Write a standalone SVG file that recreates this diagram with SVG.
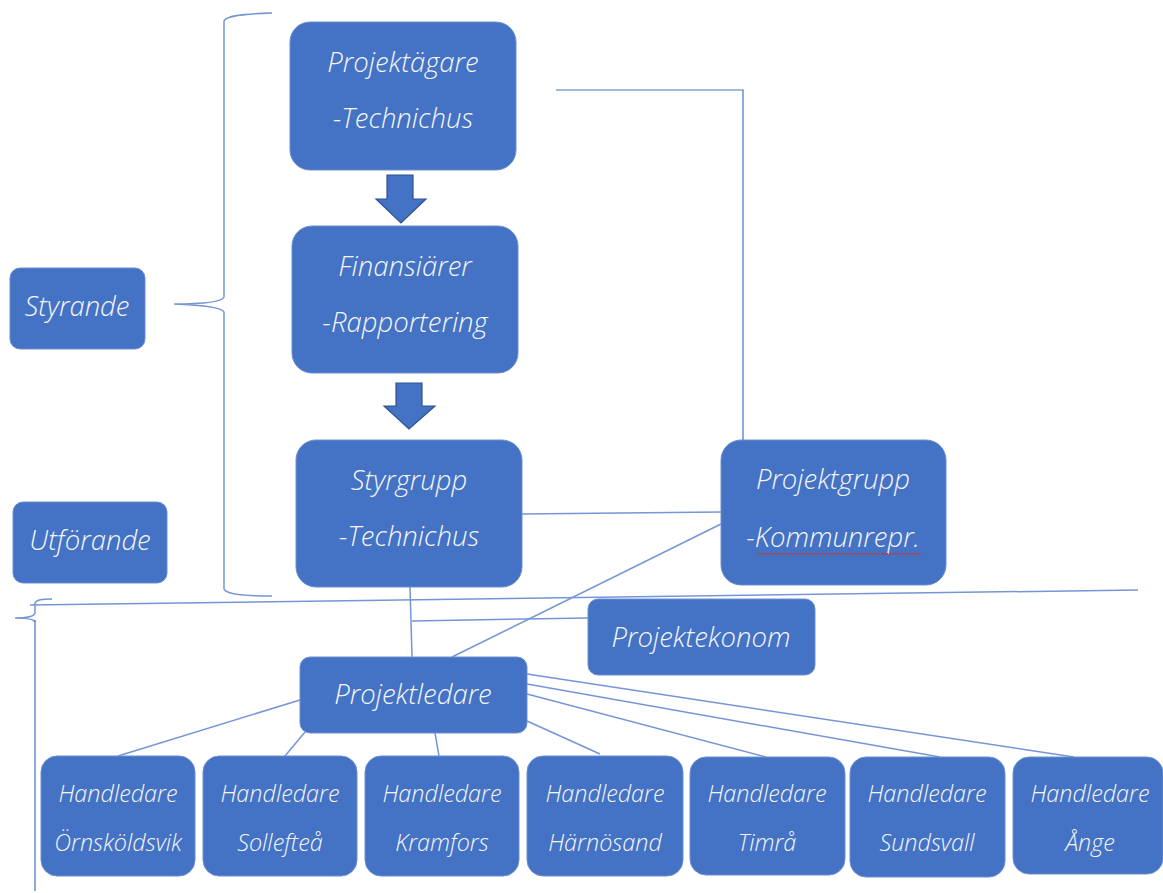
<svg xmlns="http://www.w3.org/2000/svg" width="1163" height="893" viewBox="0 0 1163 893">
<style>
.box{fill:#4472C4;stroke:#6d8fd0;stroke-width:1}
.t{font-family:"Open Sans","Liberation Sans",sans-serif;font-style:italic;font-weight:300;fill:#f6f6f6;text-anchor:middle;font-size:27.5px}
.s{font-size:23.4px}
.ln{stroke:#4472C4;stroke-width:1.2;fill:none}
.lt{stroke:#7596d6;stroke-width:1.5;fill:none}
.arr{fill:#4472C4;stroke:#2F528F;stroke-width:1.2}
</style>
<rect width="1163" height="893" fill="#ffffff"/>
<g id="connectors">
<path class="lt" d="M272,13 C240,14 226,16 224,21 L224,297 C222,302 200,304 174,304 C200,305 222,307 224,312 L224,589 C226,594 240,596 272,596"/>
<path class="lt" d="M52,599 C40,599 36,600 35,603 L35,613 C34,617 25,618 15,618 C25,618 34,619 35,622"/>
<line class="ln" x1="35" y1="620" x2="35" y2="891"/>
<line class="lt" x1="30" y1="605" x2="1138" y2="590"/>
<polyline class="ln" points="556,90 743,90 743,440"/>
<line class="lt" x1="522" y1="514" x2="721" y2="512"/>
<line class="lt" x1="721" y1="524" x2="452" y2="657"/>
<line class="lt" x1="410" y1="587" x2="412" y2="657"/>
<line class="lt" x1="412" y1="621" x2="588" y2="618"/>
<line class="lt" x1="300" y1="700" x2="118" y2="756"/>
<line class="lt" x1="305" y1="732" x2="285" y2="756"/>
<line class="lt" x1="435" y1="733" x2="439" y2="756"/>
<line class="lt" x1="527" y1="721" x2="600" y2="754"/>
<line class="lt" x1="527" y1="694" x2="766" y2="757"/>
<line class="lt" x1="527" y1="684" x2="940" y2="757"/>
<line class="lt" x1="527" y1="674" x2="1074" y2="757"/>
</g>
<g id="arrow1"><path class="arr" d="M387,175 L413,175 L413,199 L426,199 L401,223 L376,199 L387,199 Z"/></g>
<g id="arrow2"><path class="arr" d="M396,383 L422,383 L422,406 L435,406 L409,429 L384,406 L396,406 Z"/></g>
<g id="styrande"><rect class="box" x="10" y="268" width="135" height="81" rx="10"/><text class="t" x="77" y="316">Styrande</text></g>
<g id="utforande"><rect class="box" x="13" y="502" width="154" height="81" rx="10"/><text class="t" x="90" y="550">Utförande</text></g>
<g id="projektagare"><rect class="box" x="290" y="22" width="226" height="148" rx="20"/><text class="t" x="403" y="72">Projektägare</text><text class="t" x="403" y="128">-Technichus</text></g>
<g id="finansiarer"><rect class="box" x="292" y="226" width="226" height="147" rx="20"/><text class="t" x="405" y="276">Finansiärer</text><text class="t" x="405" y="332">-Rapportering</text></g>
<g id="styrgrupp"><rect class="box" x="296" y="440" width="226" height="147" rx="20"/><text class="t" x="409" y="490">Styrgrupp</text><text class="t" x="409" y="546">-Technichus</text></g>
<g id="projektgrupp"><rect class="box" x="721" y="440" width="225" height="145" rx="20"/><text class="t" x="833" y="489">Projektgrupp</text><text class="t" x="833" y="547">-Kommunrepr.</text><path d="M757,555 l2,-2 l2,2 l2,-2 l2,2 l2,-2 l2,2 l2,-2 l2,2 l2,-2 l2,2 l2,-2 l2,2 l2,-2 l2,2 l2,-2 l2,2 l2,-2 l2,2 l2,-2 l2,2 l2,-2 l2,2 l2,-2 l2,2 l2,-2 l2,2 l2,-2 l2,2 l2,-2 l2,2 l2,-2 l2,2 l2,-2 l2,2 l2,-2 l2,2 l2,-2 l2,2 l2,-2 l2,2 l2,-2 l2,2 l2,-2 l2,2 l2,-2 l2,2 l2,-2 l2,2 l2,-2 l2,2 l2,-2 l2,2 l2,-2 l2,2 l2,-2 l2,2 l2,-2 l2,2 l2,-2 l2,2 l2,-2 l2,2 l2,-2 l2,2 l2,-2 l2,2 l2,-2 l2,2 l2,-2 l2,2 l2,-2 l2,2 l2,-2 l2,2 l2,-2 l2,2 l2,-2 l2,2 l2,-2 l2,2 l2,-2 l2,2" fill="none" stroke="#c0392b" stroke-width="1"/></g>
<g id="projektekonom"><rect class="box" x="588" y="599" width="227" height="76" rx="10"/><text class="t" x="701" y="647">Projektekonom</text></g>
<g id="projektledare"><rect class="box" x="300" y="657" width="227" height="76" rx="10"/><text class="t" x="413" y="704">Projektledare</text></g>
<g id="h1"><rect class="box" x="41" y="756" width="154" height="120" rx="16"/><text class="t s" x="118" y="802">Handledare</text><text class="t s" x="118" y="851">Örnsköldsvik</text></g>
<g id="h2"><rect class="box" x="203" y="756" width="154" height="120" rx="16"/><text class="t s" x="280" y="802">Handledare</text><text class="t s" x="280" y="851">Sollefteå</text></g>
<g id="h3"><rect class="box" x="365" y="756" width="154" height="120" rx="16"/><text class="t s" x="442" y="802">Handledare</text><text class="t s" x="442" y="851">Kramfors</text></g>
<g id="h4"><rect class="box" x="527" y="756" width="156" height="120" rx="16"/><text class="t s" x="605" y="802">Handledare</text><text class="t s" x="605" y="851">Härnösand</text></g>
<g id="h5"><rect class="box" x="690" y="757" width="155" height="118" rx="16"/><text class="t s" x="767" y="802">Handledare</text><text class="t s" x="767" y="851">Timrå</text></g>
<g id="h6"><rect class="box" x="850" y="757" width="155" height="120" rx="16"/><text class="t s" x="927" y="802">Handledare</text><text class="t s" x="927" y="851">Sundsvall</text></g>
<g id="h7"><rect class="box" x="1013" y="757" width="150" height="117" rx="16"/><text class="t s" x="1090" y="802">Handledare</text><text class="t s" x="1090" y="851">Ånge</text></g>
</svg>
